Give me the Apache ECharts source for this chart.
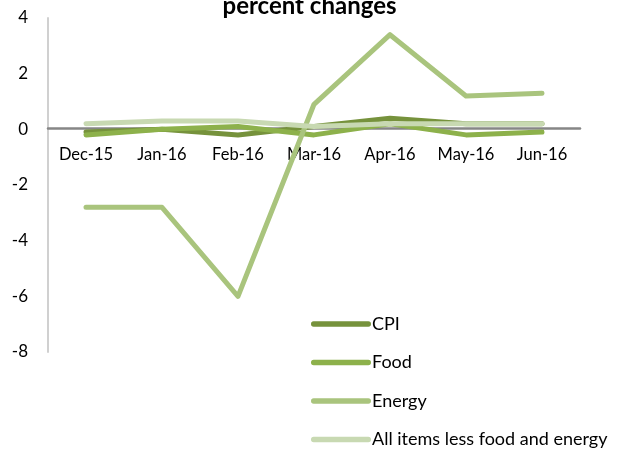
<!DOCTYPE html>
<html><head><meta charset="utf-8">
<script src="https://cdn.jsdelivr.net/npm/echarts@6/dist/echarts.min.js"></script>
<style>html,body{margin:0;padding:0;background:#fff}#c{width:619px;height:449px}</style>
</head><body><div id="c"></div>
<script>
var categories = ['Dec-15','Jan-16','Feb-16','Mar-16','Apr-16','May-16','Jun-16'];
var cpi    = [-0.1, 0.0, -0.2, 0.1, 0.4, 0.2, 0.2];
var food   = [-0.2, 0.0, 0.1, -0.2, 0.2, -0.2, -0.1];
var energy = [-2.8, -2.8, -6.0, 0.9, 3.4, 1.2, 1.3];
var core   = [0.2, 0.3, 0.3, 0.1, 0.2, 0.2, 0.2];
var seriesNames = ['CPI','Food','Energy','All items less food and energy'];
var colors = ['#76923C','#8DB14B','#A9C47D','#C8D9B2'];
var font = 'Lato, "Open Sans", sans-serif';
var chart = echarts.init(document.getElementById('c'));
var datas = [cpi, food, energy, core];
chart.setOption({
  animation: false,
  color: colors,
  graphic: [{type:'text', left: 'center', top: -6, style:{text:'percent changes', font:'bold 24px ' + font, fill:'#000'}}],
  grid: {left: 48, right: 39, top: 18, bottom: 97},
  legend: {
    orient: 'vertical', left: 306, top: 310, height: 200, itemGap: 20.5, itemWidth: 60, itemHeight: 18,
    icon: 'path://M2,0 L58,0 A2.75,2.75 0 0 1 58,5.5 L2,5.5 A2.75,2.75 0 0 1 2,0 Z',
    textStyle: {fontFamily: font, fontSize: 18, color: '#000', padding: [0,0,0,-4]},
    data: seriesNames
  },
  xAxis: {
    type: 'category', data: categories, boundaryGap: true,
    position: 'bottom', offset: -224,
    axisLine: {onZero: false, lineStyle: {color: '#868686', width: 2.5}},
    axisTick: {show: false},
    axisLabel: {fontFamily: font, fontSize: 16.5, color: '#000', margin: 18}
  },
  yAxis: {
    type: 'value', min: -8, max: 4, interval: 2,
    axisLine: {show: true, lineStyle: {color: '#D0D0D0', width: 2}},
    axisTick: {show: false},
    splitLine: {show: false},
    axisLabel: {fontFamily: font, fontSize: 17, color: '#000', margin: 20}
  },
  series: datas.map(function(d, i){
    return {name: seriesNames[i], type: 'line', data: d, symbol: 'none',
      lineStyle: {width: 5, color: colors[i], cap: 'round', join: 'round'}};
  })
});
</script></body></html>
